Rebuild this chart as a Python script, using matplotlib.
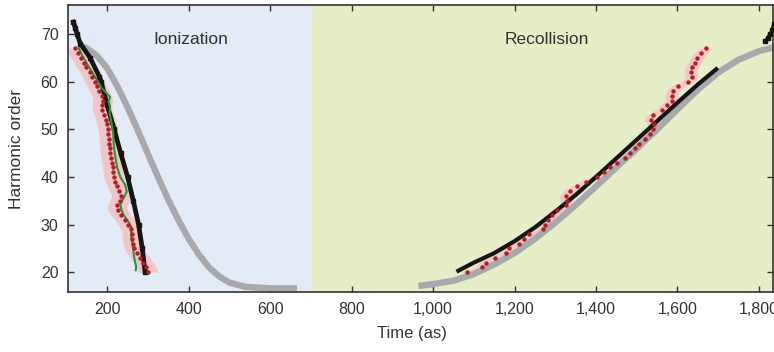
import numpy as np
import matplotlib
matplotlib.use("Agg")
import matplotlib.pyplot as plt
from matplotlib.ticker import FuncFormatter

plt.rcParams['font.family'] = ['Liberation Sans', 'DejaVu Sans']

# Model curves (grey), time in as vs harmonic order
grey_ion_t = [130, 150, 175, 200, 225, 250, 275, 300, 325, 350, 375, 400,
              425, 450, 475, 500, 540, 600, 666]
grey_ion_q = [67.7, 67.0, 65.4, 62.8, 59.0, 54.6, 49.8, 44.8, 39.9, 35.2, 30.9, 27.0,
              23.7, 21.0, 19.1, 17.8, 16.9, 16.6, 16.6]
grey_rec_t = [964, 1000, 1050, 1100, 1150, 1200, 1250, 1300, 1350, 1400, 1450,
              1500, 1550, 1600, 1650, 1700, 1750, 1800, 1840]
grey_rec_q = [17.1, 17.5, 18.2, 19.6, 21.6, 24.0, 27.0, 30.4, 34.1, 38.0, 42.0,
              46.0, 50.0, 54.2, 58.3, 61.9, 64.6, 66.4, 67.3]

# Black traces
black_ion_t = [117, 122, 126, 134, 158, 181, 185, 200, 217, 233, 250, 264, 277, 286, 293]
black_ion_q = [72.5, 71.2, 70.0, 68.0, 65.0, 61.0, 60.0, 55.0, 50.0, 45.0, 40.0, 35.0, 30.0, 25.0, 20.0]
black_rec_t = [1062, 1100, 1150, 1200, 1250, 1300, 1350, 1400, 1450, 1500, 1550, 1600, 1650, 1695]
black_rec_q = [20.3, 22.0, 24.0, 26.5, 29.4, 32.7, 36.2, 40.0, 43.9, 47.8, 51.7, 55.6, 59.4, 62.6]
black_top_t = [1815, 1822, 1828, 1833, 1836]
black_top_q = [68.5, 69.2, 70.0, 70.8, 72.0]

# Measured (red dots) ionization
ion_q = list(range(67, 19, -1))
ion_t = [121, 129, 135, 142, 149, 157, 163, 169, 175, 181,
         187, 189, 187, 188, 192, 196, 199, 201, 203, 204,
         205, 206, 207, 209, 211, 213, 214, 216, 220, 225,
         230, 235, 231, 224, 226, 233, 243, 250, 258, 260,
         261, 263, 266, 272, 281, 289, 296, 301]
ion_err = 24

# Green line ionization
green_t = [130, 138, 150, 162, 175, 187, 199, 207, 203, 207, 206, 211, 215, 216, 220,
           224, 232, 244, 248, 240, 232, 234, 240, 252, 259, 259, 263, 266, 271, 270]
green_q = [67, 65.6, 63.8, 62.1, 60.3, 58.6, 57.5, 56.8, 55.8, 54.7, 53.3, 51.2, 49.1, 46.7, 44.2,
           42.1, 40.0, 38.3, 36.9, 35.5, 34.4, 33.4, 32.0, 30.6, 29.5, 27.4, 25.3, 23.2, 21.1, 20.4]

# Measured (red dots) recollision
rec_q = list(range(20, 68))
rec_t = [1083, 1119, 1129, 1152, 1178, 1187, 1212, 1223, 1236, 1269,
         1275, 1281, 1293, 1305, 1326, 1328, 1326, 1335, 1354, 1376,
         1402, 1420, 1434, 1451, 1471, 1483, 1496, 1506, 1519, 1533,
         1541, 1542, 1535, 1541, 1561, 1574, 1586, 1586, 1588, 1601,
         1627, 1635, 1632, 1635, 1643, 1649, 1657, 1670]
rec_err = 16

fig = plt.figure(figsize=(7.74, 3.52), dpi=100)
ax = fig.add_axes([0.088, 0.170, 0.911, 0.816])

ax.axvspan(0, 700, color='#e3ebf7', zorder=0)
ax.axvspan(700, 2000, color='#e6eec8', zorder=0)

ax.plot(grey_ion_t, grey_ion_q, color='#a9a9ad', lw=4.6, solid_capstyle='butt',
        solid_joinstyle='round', zorder=2)
ax.plot(grey_rec_t, grey_rec_q, color='#a9a9ad', lw=4.6, solid_capstyle='butt',
        solid_joinstyle='round', zorder=2)

ion_t = np.array(ion_t)
rec_t = np.array(rec_t)
ax.fill_betweenx(ion_q, ion_t - ion_err, ion_t + ion_err, color='#f2c5c6', lw=0, zorder=1.5)
ax.fill_betweenx(rec_q, rec_t - rec_err, rec_t + rec_err, color='#f2c8c4', lw=0, zorder=1.5)

ax.plot(black_ion_t, black_ion_q, color='#151515', lw=3.4, marker='s', ms=2.6, zorder=3)
ax.plot(black_rec_t, black_rec_q, color='#151515', lw=3.0, zorder=3)
ax.plot(black_top_t, black_top_q, color='#151515', lw=2.5, marker='s', ms=2.5, zorder=3)

ax.plot(green_t, green_q, color='#1f9a3c', lw=1.5, zorder=4)

ax.plot(ion_t, ion_q, 'o', color='#b51d25', ms=3.2, mec='none', zorder=5)
ax.plot(rec_t, rec_q, 'o', color='#b51d25', ms=3.2, mec='none', zorder=5)

ax.text(404, 68.8, 'Ionization', ha='center', va='center', fontsize=12.5, color='#333333')
ax.text(1280, 68.9, 'Recollision', ha='center', va='center', fontsize=12.5, color='#333333')

ax.set_xlim(104, 1835)
ax.set_ylim(15.8, 76.1)
ax.set_xticks(range(200, 1801, 200))
ax.set_yticks(range(20, 71, 10))
ax.xaxis.set_major_formatter(FuncFormatter(lambda v, p: f'{v:,.0f}'))
ax.tick_params(direction='in', top=True, right=True, length=4, width=1,
               labelsize=11.5, colors='#333333', labelcolor='#333333', pad=7)
for s in ax.spines.values():
    s.set_color('#333333')
    s.set_linewidth(1.2)

ax.set_xlabel('Time (as)', fontsize=12, color='#333333')
ax.set_ylabel('Harmonic order', fontsize=12.5, color='#333333')
ax.xaxis.set_label_coords(0.488, -0.118)
ax.yaxis.set_label_coords(-0.062, 0.5)

fig.savefig('out.png', dpi=100)
